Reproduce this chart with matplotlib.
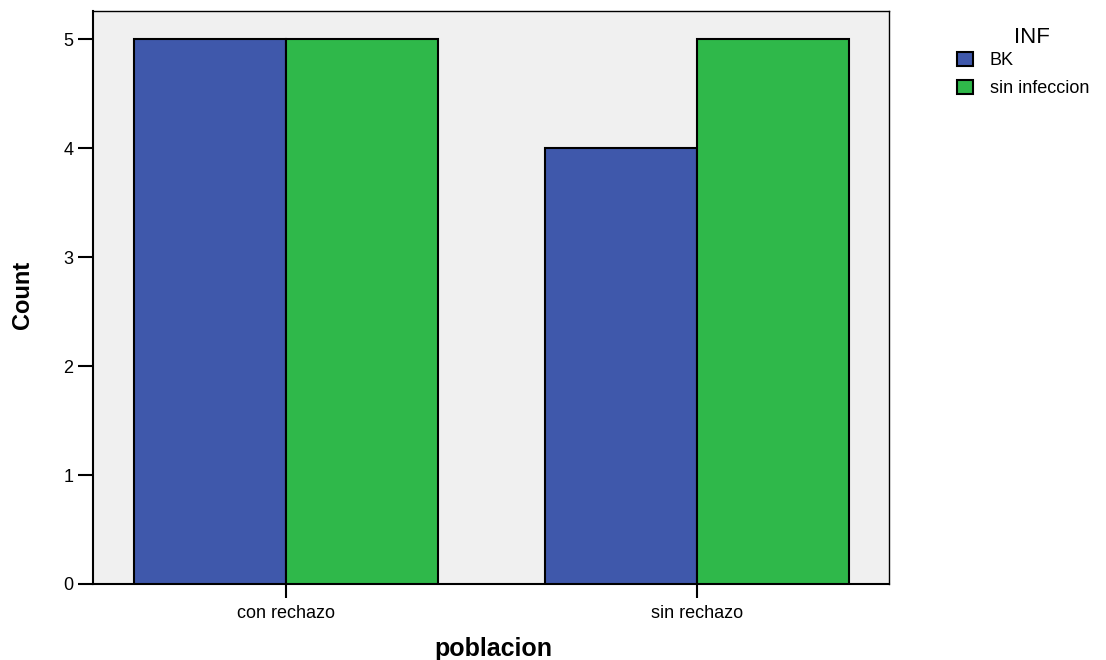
import matplotlib
matplotlib.use('Agg')
import matplotlib.pyplot as plt
import numpy as np

# data
categories = ['con rechazo', 'sin rechazo']
bk = [5, 4]
sin_infeccion = [5, 5]
series_labels = ['BK', 'sin infeccion']

plt.rcParams['font.family'] = ['Liberation Sans', 'DejaVu Sans']

fig = plt.figure(figsize=(11.06, 6.6), dpi=100)
ax = fig.add_axes([0.0841, 0.1152, 0.7197, 0.8681])
ax.set_facecolor('#f0f0f0')

x = np.arange(len(categories))
w = 0.37
ax.bar(x - w / 2, bk, w, color='#3f58ab', edgecolor='black', linewidth=1.5,
       label=series_labels[0], zorder=3)
ax.bar(x + w / 2, sin_infeccion, w, color='#2fb84a', edgecolor='black', linewidth=1.5,
       label=series_labels[1], zorder=3)

ax.set_xlim(-0.4696, 1.467)
ax.set_ylim(0, 5.26)
ax.set_xticks(x)
ax.set_xticklabels(categories, fontsize=13)
ax.set_yticks(range(0, 6))
ax.tick_params(axis='y', length=11, width=1.5, labelsize=13, pad=3)
ax.tick_params(axis='x', length=10, width=1.5, labelsize=13, pad=5)
for s in ax.spines.values():
    s.set_linewidth(1.0)
ax.spines['left'].set_linewidth(1.5)
ax.spines['bottom'].set_linewidth(1.5)

# axis titles
fig.text(493 / 1106, 1 - 656 / 660, 'poblacion', fontsize=18, fontweight='bold',
         ha='center', va='baseline')
fig.text(23 / 1106, 1 - 295 / 660, 'Count', fontsize=17, fontweight='bold',
         rotation=90, ha='center', va='center')

# legend, title drawn separately so it sits closer to the entries
fig.text(1032 / 1106, 1 - 43 / 660, 'INF', fontsize=16, ha='center', va='baseline')
leg = fig.legend(loc='upper left', bbox_to_anchor=(957 / 1106, 1 - 52 / 660),
                 frameon=False, borderpad=0, borderaxespad=0, fontsize=13,
                 handlelength=0.9, handleheight=0.85, handletextpad=0.9,
                 labelspacing=0.58)

plt.savefig('out.png', dpi=100)
